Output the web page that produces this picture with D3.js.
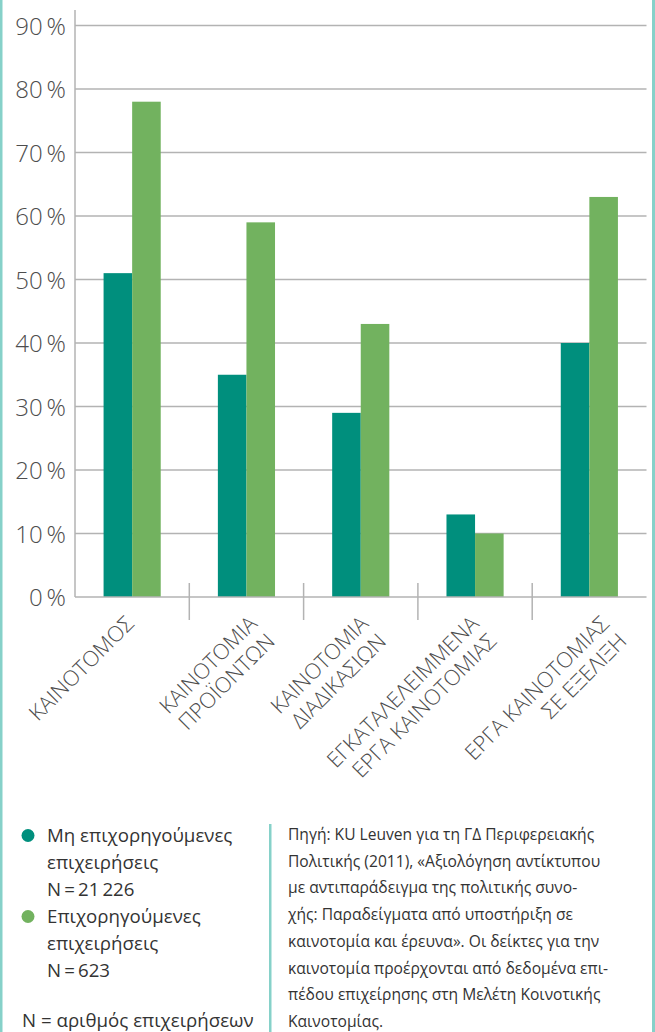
<!DOCTYPE html>
<html>
<head>
<meta charset="utf-8">
<script src="https://cdn.jsdelivr.net/npm/d3@7"></script>
<style>
  html, body { margin: 0; padding: 0; background: #ffffff; }
  svg { display: block; }
</style>
</head>
<body>
<svg id="chart" width="655" height="1032"></svg>
<script>
// ---------- data ----------
const categories = [
  ["ΚΑΙΝΟΤΟΜΟΣ"],
  ["ΚΑΙΝΟΤΟΜΙΑ", "ΠΡΟΪΟΝΤΩΝ"],
  ["ΚΑΙΝΟΤΟΜΙΑ", "ΔΙΑΔΙΚΑΣΙΩΝ"],
  ["ΕΓΚΑΤΑΛΕΛΕΙΜΜΕΝΑ", "ΕΡΓΑ ΚΑΙΝΟΤΟΜΙΑΣ"],
  ["ΕΡΓΑ ΚΑΙΝΟΤΟΜΙΑΣ", "ΣΕ ΕΞΕΛΙΞΗ"]
];
const nonSubsidised = [51, 35, 29, 13, 40];
const subsidised = [78, 59, 43, 10, 63];
const seriesNames = ["nonSubsidised", "subsidised"];
const yTicks = [0, 10, 20, 30, 40, 50, 60, 70, 80, 90];
const legendLines = [
  ["Μη επιχορηγούμενες", "επιχειρήσεις", "N\u2009=\u200921\u2009226"],
  ["Επιχορηγούμενες", "επιχειρήσεις", "N\u2009=\u2009623"]
];
const legendNote = "N = αριθμός επιχειρήσεων";
const sourceLines = [
  "Πηγή: KU Leuven για τη ΓΔ Περιφερειακής",
  "Πολιτικής (2011), «Αξιολόγηση αντίκτυπου",
  "με αντιπαράδειγμα της πολιτικής συνο-",
  "χής: Παραδείγματα από υποστήριξη σε",
  "καινοτομία και έρευνα». Οι δείκτες για την",
  "καινοτομία προέρχονται από δεδομένα επι-",
  "πέδου επιχείρησης στη Μελέτη Κοινοτικής",
  "Καινοτομίας."
];

// ---------- layout / style ----------
const W = 655, H = 1032;
const colors = { nonSubsidised: "#008f7d", subsidised: "#72b25f" };
const frameColor = "#86d1c9";
const gridColor = "#b3b3b3";
const labelNudge = [3, 12, 9, 5, 21];
const svg = d3.select("#chart");

// frame
svg.append("rect").attr("x", 0).attr("y", 0).attr("width", 2.5).attr("height", H).attr("fill", frameColor);
svg.append("rect").attr("x", W - 3).attr("y", 0).attr("width", 3).attr("height", H).attr("fill", frameColor);

const plot = { left: 75, right: 646.5, top: 25.5, bottom: 597 };
const x = d3.scaleBand().domain(d3.range(categories.length)).range([plot.left, plot.right]);
const xInner = d3.scaleBand().domain(seriesNames).range([0, x.bandwidth()]).paddingOuter(1);
const y = d3.scaleLinear().domain([0, 90]).range([plot.bottom, plot.top]);

// gridlines
svg.append("g").selectAll("line").data(yTicks.filter(d => d > 0)).join("line")
  .attr("x1", plot.left).attr("x2", plot.right)
  .attr("y1", d => y(d)).attr("y2", d => y(d))
  .attr("stroke", gridColor).attr("stroke-width", 1.5);

// y axis
const yAxis = d3.axisLeft(y).tickValues(yTicks).tickSize(0).tickPadding(9)
  .tickFormat(d => d + "\u2009%");
const yg = svg.append("g").attr("transform", `translate(${plot.left},0)`).call(yAxis);
yg.select(".domain").remove();
yg.selectAll("text")
  .attr("font-family", "'Open Sans', sans-serif").attr("font-weight", 300)
  .attr("font-size", 24).attr("fill", "#4d4d4d").attr("dy", "0.36em");
svg.append("line").attr("x1", plot.left).attr("x2", plot.left)
  .attr("y1", 10).attr("y2", plot.bottom).attr("stroke", gridColor).attr("stroke-width", 1.5);

// bars
const rows = categories.map((c, i) => ({ i, values: [
  { key: "nonSubsidised", v: nonSubsidised[i] },
  { key: "subsidised", v: subsidised[i] }
]}));
svg.append("g").selectAll("g").data(rows).join("g")
  .attr("transform", d => `translate(${x(d.i)},0)`)
  .selectAll("rect").data(d => d.values).join("rect")
  .attr("x", d => xInner(d.key)).attr("width", xInner.bandwidth())
  .attr("y", d => y(d.v)).attr("height", d => y(0) - y(d.v))
  .attr("fill", d => colors[d.key]);

// x axis line
svg.append("line").attr("x1", plot.left).attr("x2", plot.right)
  .attr("y1", plot.bottom).attr("y2", plot.bottom).attr("stroke", gridColor).attr("stroke-width", 1.5);
// separators
svg.append("g").selectAll("line").data(d3.range(1, categories.length)).join("line")
  .attr("x1", d => x(d)).attr("x2", d => x(d))
  .attr("y1", plot.bottom - 14).attr("y2", plot.bottom + 23)
  .attr("stroke", gridColor).attr("stroke-width", 1.5);

// category labels
const lab = svg.append("g").selectAll("text").data(categories).join("text")
  .attr("transform", (d, i) => `translate(${x(i) + x.bandwidth() / 2 + labelNudge[i]},${plot.bottom + 28}) rotate(-45)`)
  .attr("text-anchor", "end")
  .attr("font-family", "'Open Sans', sans-serif").attr("font-weight", 300)
  .attr("font-size", 21.5).attr("fill", "#4d4d4d");
lab.selectAll("tspan").data(d => d).join("tspan")
  .attr("x", 0).attr("y", (d, j) => j * 25).text(d => d);

// legend
const lg = svg.append("g");
legendLines.forEach((lines, k) => {
  const y0 = 842 + k * 81;
  lg.append("circle").attr("cx", 28).attr("cy", y0 - 6.5).attr("r", 6.5)
    .attr("fill", colors[seriesNames[k]]);
  lg.append("text").attr("x", 47).attr("y", y0)
    .attr("font-family", "'Open Sans', sans-serif").attr("font-size", 18.7).attr("fill", "#333")
    .selectAll("tspan").data(lines).join("tspan")
    .attr("x", 47).attr("y", (d, j) => y0 + j * 27).text(d => d);
});
lg.append("text").attr("x", 22).attr("y", 1027)
  .attr("font-family", "'Open Sans', sans-serif").attr("font-size", 18.7).attr("fill", "#333")
  .text(legendNote);

// separator + source
svg.append("rect").attr("x", 269).attr("y", 824).attr("width", 2.5).attr("height", H - 824).attr("fill", frameColor);
svg.append("text").attr("font-family", "'Open Sans', sans-serif").attr("font-size", 15.6).attr("fill", "#333")
  .selectAll("tspan").data(sourceLines).join("tspan")
  .attr("x", 288).attr("y", (d, j) => 840 + j * 26.7).text(d => d);
</script>
</body>
</html>
